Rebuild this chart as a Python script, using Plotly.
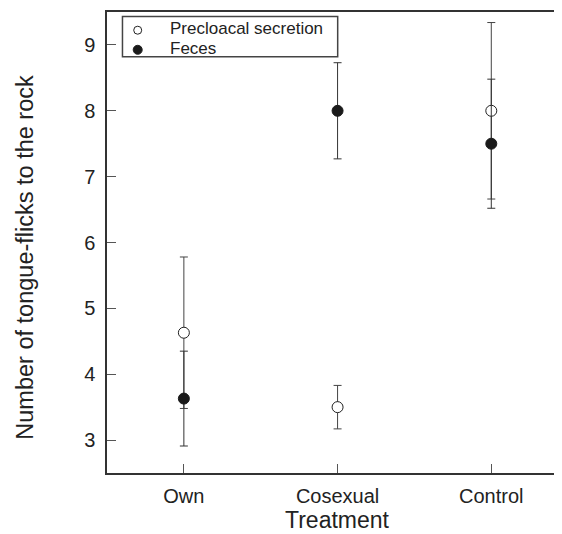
import plotly.graph_objects as go

categories = ["Own", "Cosexual", "Control"]
secretion_mean = [4.63, 3.50, 8.00]
secretion_err = [1.15, 0.33, 1.34]
feces_mean = [3.63, 8.00, 7.50]
feces_err = [0.72, 0.73, 0.98]
y_ticks = [3, 4, 5, 6, 7, 8, 9]
legend_labels = ["Precloacal secretion", "Feces"]

FONT = "Liberation Sans, Arial, sans-serif"

fig = go.Figure()
fig.add_trace(go.Scatter(
    x=categories, y=secretion_mean, mode="markers", name=legend_labels[0],
    marker=dict(symbol="circle", size=11, color="white", line=dict(color="#222", width=1)),
    error_y=dict(type="data", array=secretion_err, visible=True, color="#444", thickness=1, width=4),
))
fig.add_trace(go.Scatter(
    x=categories, y=feces_mean, mode="markers", name=legend_labels[1],
    marker=dict(symbol="circle", size=11, color="#1a1a1a", line=dict(color="#1a1a1a", width=1)),
    error_y=dict(type="data", array=feces_err, visible=True, color="#333", thickness=1, width=4),
))

# manual legend (box, symbols, labels) in paper coordinates
fig.add_shape(type="rect", xref="paper", yref="paper", x0=0.034, x1=0.507, y0=0.903, y1=0.9904,
              line=dict(color="#444", width=1.5), fillcolor="white", layer="above")
legend_y = [0.9605, 0.918]
legend_fill = ["white", "#1a1a1a"]
legend_size = [8, 9]
for yy, fc, sz, lab in zip(legend_y, legend_fill, legend_size, legend_labels):
    fig.add_shape(type="circle", xref="paper", yref="paper", xsizemode="pixel", ysizemode="pixel",
                  xanchor=0.0675, yanchor=yy, x0=-sz / 2, x1=sz / 2, y0=-sz / 2, y1=sz / 2,
                  line=dict(color="#222", width=1), fillcolor=fc, layer="above")
    fig.add_annotation(x=0.1335, y=yy + 0.003, xref="paper", yref="paper", text=lab, showarrow=False,
                       xanchor="left", yanchor="middle", font=dict(size=17, family=FONT, color="#222"))

# axis titles
fig.add_annotation(x=0.507, y=-0.101, xref="paper", yref="paper", text="Treatment", showarrow=False,
                   xanchor="center", yanchor="middle", font=dict(size=23, family=FONT, color="#222"))
fig.add_annotation(x=-0.181, y=0.4685, xref="paper", yref="paper",
                   text="Number of tongue-flicks to the rock", showarrow=False, textangle=-90,
                   xanchor="center", yanchor="middle", font=dict(size=23.5, family=FONT, color="#222"))

fig.update_layout(
    width=554, height=526,
    margin=dict(l=99, r=0, t=4, b=61),
    paper_bgcolor="white", plot_bgcolor="white",
    font=dict(family=FONT, color="#222"),
    showlegend=False,
    xaxis=dict(
        type="category", categoryorder="array", categoryarray=categories,
        range=[-0.5, 2.46],
        showline=True, linecolor="#333", linewidth=1.5, mirror=True,
        ticks="inside", ticklen=9, tickcolor="#555", tickwidth=1,
        showgrid=False, zeroline=False,
        tickfont=dict(size=20), ticklabelstandoff=4,
    ),
    yaxis=dict(
        range=[2.5, 9.5], tickvals=y_ticks,
        showline=True, linecolor="#333", linewidth=1.5, mirror=False,
        ticks="inside", ticklen=9, tickcolor="#555", tickwidth=1,
        showgrid=False, zeroline=False,
        tickfont=dict(size=20), ticklabelstandoff=6,
    ),
)

fig.write_html("out.html")
